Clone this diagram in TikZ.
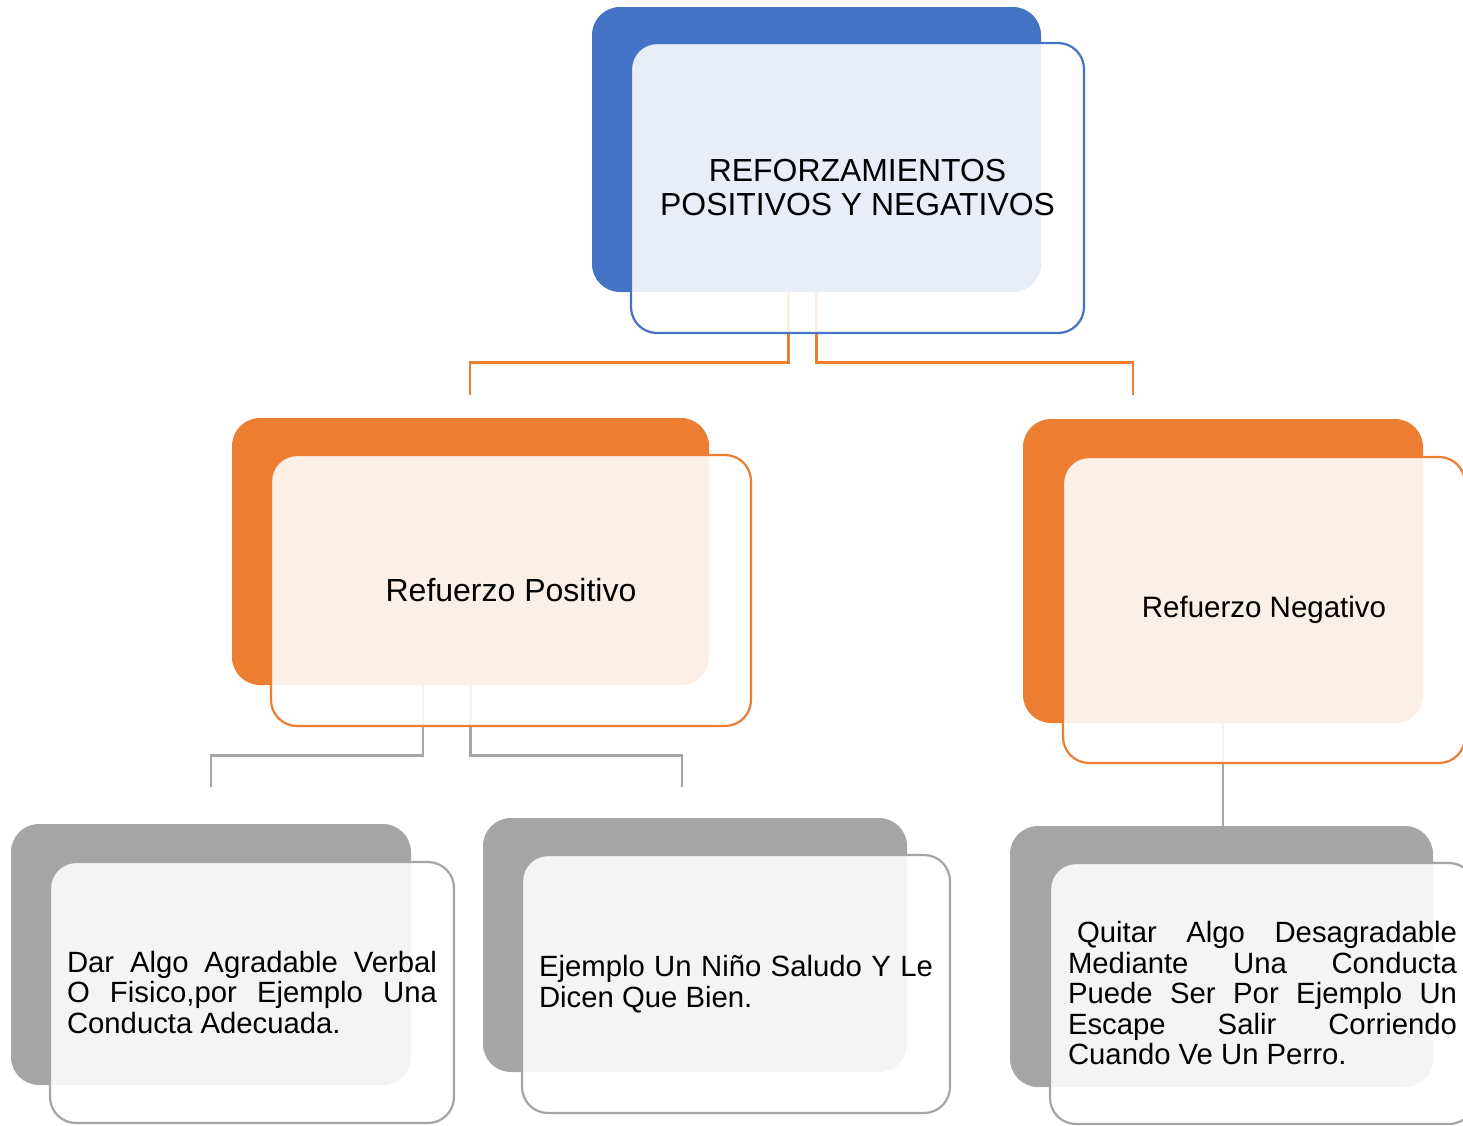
\documentclass[tikz,border=0pt]{standalone}
\usepackage{fontspec}
\setmainfont{Liberation Sans}
\definecolor{accblue}{HTML}{4472C4}
\definecolor{accorange}{HTML}{ED7D31}
\definecolor{accgray}{HTML}{A5A5A5}
\tolerance=10000
\hbadness=10000

\begin{document}
\begin{tikzpicture}[x=1pt, y=-1pt]
    \tikzstyle{backbox}=[
        rectangle,
        rounded corners = 28pt,
        inner sep = 0pt
    ]
    \tikzstyle{frontbox}=[
        rectangle,
        rounded corners = 26pt,
        fill = white,
        fill opacity = 0.88,
        text opacity = 1,
        line width = 2.2pt,
        inner sep = 0pt
    ]
    \tikzstyle{leaftext}=[font=\fontsize{29.3}{30.5}\selectfont, align=justify]
    \tikzstyle{conn}=[line width=2.8pt]

    \useasboundingbox (0,0) rectangle (1463,1125);
    \clip (0,0) rectangle (1463,1125);

    \node[backbox, fill=accblue, minimum width=449pt, minimum height=285pt] (topback) at (816.5,149.5) {};
    \node[backbox, fill=accorange, minimum width=477pt, minimum height=267pt] (posback) at (470.5,551.5) {};
    \node[backbox, fill=accorange, minimum width=400pt, minimum height=304pt] (negback) at (1223,571) {};
    \node[backbox, fill=accgray, minimum width=400pt, minimum height=261pt] (darback) at (211,954.5) {};
    \node[backbox, fill=accgray, minimum width=424pt, minimum height=254pt] (ejback) at (695,945) {};
    \node[backbox, fill=accgray, minimum width=423pt, minimum height=261pt] (quback) at (1221.5,956.5) {};

    \coordinate (posend) at (470,395);
    \coordinate (negend) at (1133,395);
    \coordinate (darend) at (211,787);
    \coordinate (ejend) at (682,787);

    \draw[conn, accorange] ([xshift=-28pt]topback.south) -- ++(0,70) -| (posend);
    \draw[conn, accorange] (topback.south) -- ++(0,70) -| (negend);
    \draw[conn, accgray] ([xshift=-47.5pt]posback.south) -- ++(0,70) -| (darend);
    \draw[conn, accgray] (posback.south) -- ++(0,70) -| (ejend);
    \draw[conn, accgray] (negback.south) -- (negback.south |- quback.north);

    \node[frontbox, draw=accblue, minimum width=453pt, minimum height=290pt,
          align=center, font=\fontsize{31.9}{34}\selectfont] (topfront) at (857.5,188)
          {REFORZAMIENTOS\\POSITIVOS Y NEGATIVOS};
    \node[frontbox, draw=accorange, minimum width=480pt, minimum height=271pt,
          font=\fontsize{32}{34}\selectfont] (posfront) at (511,590.5) {Refuerzo Positivo};
    \node[frontbox, draw=accorange, minimum width=402pt, minimum height=306pt,
          font=\fontsize{29.5}{32}\selectfont] (negfront) at (1264,610) {Refuerzo Negativo};
    \node[frontbox, draw=accgray, minimum width=404pt, minimum height=261pt,
          leaftext, text width=370pt] (darfront) at (252,992.5)
          {Dar Algo Agradable Verbal\linebreak O Fisico,por Ejemplo Una\linebreak Conducta Adecuada.};
    \node[frontbox, draw=accgray, minimum width=428pt, minimum height=258pt,
          leaftext, text width=394pt] (ejfront) at (736,984)
          {Ejemplo Un Niño Saludo Y Le\linebreak Dicen Que Bien.};
    \node[frontbox, draw=accgray, minimum width=425pt, minimum height=261pt,
          leaftext, text width=389pt] (qufront) at (1262.5,993.5)
          {\hspace*{9pt}Quitar Algo Desagradable\linebreak Mediante Una Conducta\linebreak Puede Ser Por Ejemplo Un\linebreak Escape Salir Corriendo\linebreak Cuando Ve Un Perro.};
\end{tikzpicture}
\end{document}
